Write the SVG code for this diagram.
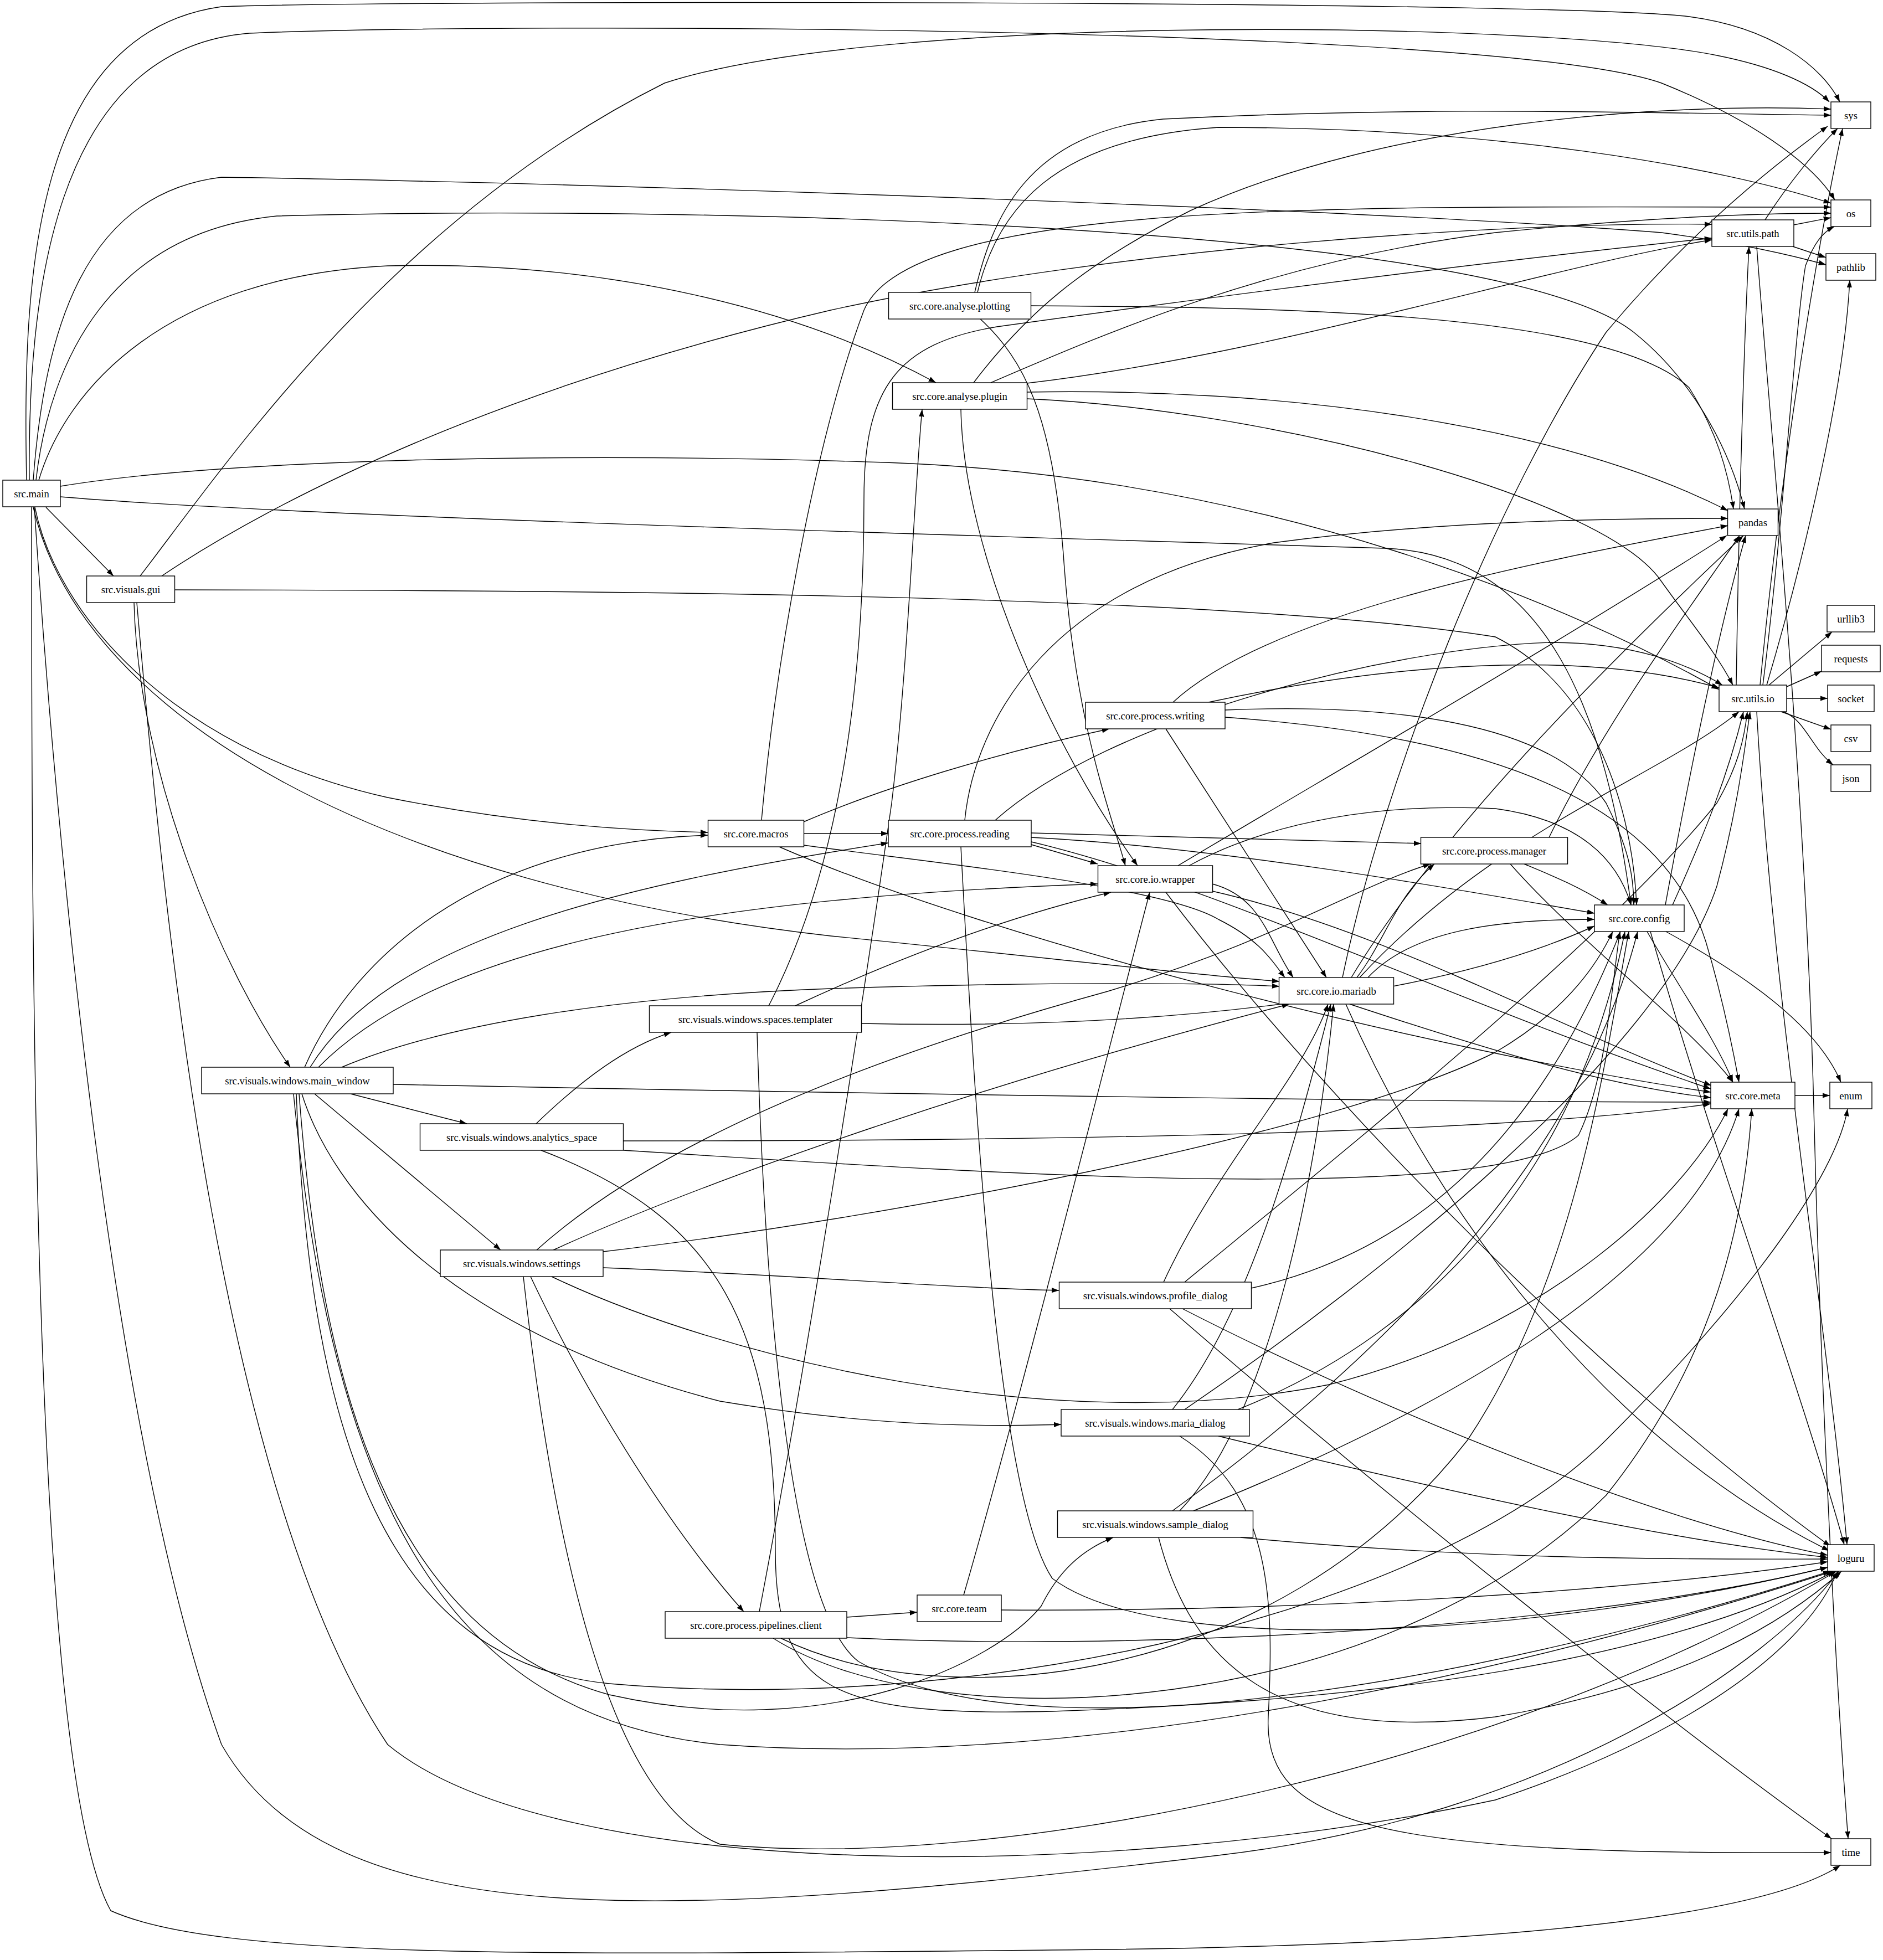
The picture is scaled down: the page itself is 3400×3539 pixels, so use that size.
<svg xmlns="http://www.w3.org/2000/svg" width="3400" height="3539" viewBox="0 0 3400 3539">
<style>
.e path{fill:none;stroke:#000;stroke-width:1.4;marker-end:url(#a)}
.n rect{fill:#fff;stroke:#000;stroke-width:1.4}
.n text{font-family:"Liberation Serif","Times New Roman",serif;font-size:18.67px;text-anchor:middle;fill:#000}
</style>
<defs>
<marker id="a" markerUnits="userSpaceOnUse" markerWidth="15" markerHeight="11" refX="13.3" refY="4.7" orient="auto"><path d="M0,0 L13.3,4.7 L0,9.4 Z" fill="#000"/></marker>
</defs>
<rect width="3400" height="3539" fill="#fff"/>
<g id="edges" class="e">
<path d="M48,867 C40,500 60,60 400,12 C700,0 2800,0 3050,30 C3200,50 3290,120 3322,184"/>
<path d="M53,867 C50,550 90,90 450,60 C900,40 2700,45 3000,150 C3150,210 3270,290 3313,361"/>
<path d="M60,867 C80,600 150,350 400,320 C1100,330 2500,380 3000,420 C3150,440 3250,465 3297,478"/>
<path d="M65,867 C90,650 200,420 500,390 C1200,370 2700,400 2950,600 C3050,680 3120,800 3150,919"/>
<path d="M70,867 C120,700 300,500 700,480 C1100,470 1450,560 1690,691"/>
<path d="M83,916 L205,1040"/>
<path d="M109,878 C400,830 1000,815 1600,835 C2300,860 2850,1100 3104,1245"/>
<path d="M109,897 C500,930 1500,960 2500,990 C2800,1000 2900,1300 2945,1634"/>
<path d="M63,916 C100,1100 300,1350 700,1440 C950,1490 1150,1500 1278,1503"/>
<path d="M60,916 C150,1300 700,1600 1500,1690 C1900,1730 2150,1760 2310,1772"/>
<path d="M62,916 C100,1500 200,2600 400,3150 C600,3500 1200,3470 2200,3350 C2800,3280 3200,3000 3320,2837"/>
<path d="M57,916 C57,1800 60,3200 200,3450 C400,3540 1000,3530 2000,3520 C2800,3510 3200,3450 3323,3368"/>
<path d="M253,1040 C400,850 700,400 1200,150 C1600,20 2800,40 3100,100 C3200,120 3270,150 3303,184"/>
<path d="M292,1040 C500,900 900,700 1500,560 C2000,450 2700,400 3091,405"/>
<path d="M316,1065 C1000,1066 2200,1070 2700,1150 C2900,1250 2950,1500 2955,1634"/>
<path d="M242,1088 C250,1400 400,1750 524,1927"/>
<path d="M247,1088 C300,1700 400,2700 700,3150 C1000,3400 2000,3400 2700,3250 C3000,3150 3250,3000 3318,2837"/>
<path d="M550,1927 C650,1700 900,1520 1278,1508"/>
<path d="M560,1927 C700,1700 1100,1600 1604,1522"/>
<path d="M575,1927 C800,1700 1300,1620 1982,1596"/>
<path d="M617,1927 C800,1850 1100,1800 1500,1785 C1900,1772 2200,1775 2310,1781"/>
<path d="M710,1958 C1300,1970 2500,1990 3089,1990"/>
<path d="M633,1975 L843,2029"/>
<path d="M568,1975 L904,2257"/>
<path d="M545,1975 C600,2150 800,2400 1300,2530 C1600,2580 1800,2575 1916,2572"/>
<path d="M540,1975 C580,2500 700,2950 1100,3060 C1500,3150 1800,3000 1880,2900 C1910,2840 1950,2800 2010,2776"/>
<path d="M535,1975 C560,2600 700,3000 1100,3040 C1800,3100 2600,2900 2900,2600 C3200,2300 3320,2100 3336,2002"/>
<path d="M530,1975 C600,2700 800,3100 1300,3150 C2000,3200 2800,3000 3310,2837"/>
<path d="M968,2029 C1050,1950 1130,1890 1212,1864"/>
<path d="M1126,2060 C1800,2060 2700,2050 3089,1993"/>
<path d="M1126,2077 C1800,2120 2700,2180 2850,2050 C2900,1950 2910,1780 2925,1682"/>
<path d="M977,2077 C1300,2200 1400,2400 1400,2800 C1400,3050 1500,3100 1900,3090 C2500,3070 3000,3000 3313,2837"/>
<path d="M969,2257 C1200,2050 1600,1900 2000,1790 C2300,1700 2450,1600 2583,1560"/>
<path d="M999,2257 C1300,2120 1800,1950 2328,1813"/>
<path d="M1089,2260 C1600,2200 2400,2050 2700,1900 C2820,1830 2880,1750 2912,1682"/>
<path d="M1089,2289 C1400,2300 1700,2325 1912,2330"/>
<path d="M996,2305 C1300,2450 1900,2600 2400,2500 C2800,2400 3050,2150 3120,2002"/>
<path d="M958,2305 C1050,2500 1200,2750 1343,2910"/>
<path d="M945,2305 C1000,2800 1100,3250 1300,3330 C1800,3380 2700,3200 3316,2837"/>
<path d="M1388,1816 C1500,1600 1560,1300 1560,900 C1560,700 1620,620 1800,590 C2300,520 2800,460 3091,430"/>
<path d="M1436,1816 C1600,1740 1800,1660 2006,1611"/>
<path d="M1556,1848 C2100,1860 2600,1800 2879,1672"/>
<path d="M1367,1864 C1380,2300 1420,2900 1550,3000 C1900,3200 2800,3000 3305,2837"/>
<path d="M1375,1481 C1400,1200 1470,800 1560,560 C1650,350 2500,375 3306,374"/>
<path d="M1451,1484 C1600,1420 1800,1360 2003,1316"/>
<path d="M1451,1505 L1604,1505"/>
<path d="M1451,1526 C1700,1560 2100,1600 2200,1660 C2280,1700 2300,1740 2320,1765"/>
<path d="M1407,1529 C1800,1700 2600,1900 3089,1972"/>
<path d="M1760,528 C1790,400 1850,240 2100,215 C2600,190 3000,205 3306,208"/>
<path d="M1765,528 C1800,380 1900,250 2200,230 C2700,230 3100,300 3306,367"/>
<path d="M1861,552 C2300,555 2900,560 3050,700 C3100,780 3120,850 3130,919"/>
<path d="M1770,576 C1850,650 1900,750 1920,1000 C1940,1300 2000,1450 2032,1563"/>
<path d="M1758,691 C1850,570 1950,480 2150,380 C2500,220 3000,185 3306,197"/>
<path d="M1789,691 C2000,600 2300,470 2700,420 C3000,390 3200,385 3306,385"/>
<path d="M1854,692 C2300,640 2800,480 3091,433"/>
<path d="M1854,708 C2300,700 2800,760 3120,922"/>
<path d="M1854,720 C2300,740 2900,900 3000,1050 C3050,1120 3100,1180 3129,1237"/>
<path d="M1735,739 C1740,1000 1900,1350 2054,1563"/>
<path d="M2118,1268 C2300,1100 2800,1010 3120,949"/>
<path d="M2182,1268 C2500,1200 2850,1170 3104,1242"/>
<path d="M2212,1282 C2500,1270 2800,1300 2900,1450 C2940,1530 2950,1580 2950,1634"/>
<path d="M2212,1295 C2700,1330 3000,1450 3080,1700 C3110,1800 3130,1900 3140,1954"/>
<path d="M2105,1316 L2395,1765"/>
<path d="M2127,1563 C2400,1400 2800,1170 3118,967"/>
<path d="M2147,1563 C2300,1480 2500,1450 2700,1460 C2850,1480 2920,1550 2945,1634"/>
<path d="M2189,1596 C2280,1620 2290,1700 2335,1765"/>
<path d="M2189,1609 C2500,1680 2800,1850 3090,1960"/>
<path d="M2105,1611 C2400,2000 2900,2500 3305,2792"/>
<path d="M1742,1481 C1760,1300 1900,1050 2300,980 C2600,940 2900,936 3120,936"/>
<path d="M1797,1481 C2000,1300 2500,1170 2800,1160 C2950,1160 3050,1200 3110,1237"/>
<path d="M1862,1525 L1982,1560"/>
<path d="M1862,1504 C2100,1510 2400,1520 2566,1523"/>
<path d="M1862,1512 C2200,1530 2600,1600 2879,1649"/>
<path d="M1862,1520 C2200,1600 2600,1800 3089,1966"/>
<path d="M1735,1529 C1760,2000 1800,2700 1900,2850 C2100,3000 2800,2950 3300,2830"/>
<path d="M2797,1512 C2900,1300 3050,1100 3141,967"/>
<path d="M2752,1560 C2800,1580 2850,1600 2903,1634"/>
<path d="M2727,1560 C2850,1700 3050,1850 3129,1954"/>
<path d="M2424,1765 C2500,1400 2700,900 2900,600 C3050,420 3200,300 3300,228"/>
<path d="M2440,1765 C2600,1500 2900,1200 3148,967"/>
<path d="M2450,1765 C2500,1700 2520,1620 2590,1560"/>
<path d="M2470,1765 C2550,1680 2700,1660 2879,1660"/>
<path d="M2455,1765 C2700,1500 3000,1400 3140,1285"/>
<path d="M2437,1813 C2700,1900 2900,1960 3089,1982"/>
<path d="M2430,1813 C2600,2200 2900,2600 3303,2800"/>
<path d="M3007,1634 C3050,1400 3100,1150 3152,967"/>
<path d="M3020,1634 C3080,1500 3120,1400 3148,1285"/>
<path d="M2974,1682 C3030,1780 3100,1880 3129,1954"/>
<path d="M3008,1682 C3150,1760 3280,1850 3324,1954"/>
<path d="M2980,1682 C3100,2100 3250,2500 3330,2789"/>
<path d="M3241,1978 L3304,1978"/>
<path d="M3187,397 C3230,330 3280,270 3318,232"/>
<path d="M3239,406 L3306,393"/>
<path d="M3237,445 L3297,465"/>
<path d="M3172,445 C3190,700 3260,1400 3275,2000 C3290,2600 3320,3100 3337,3320"/>
<path d="M3178,1237 C3210,900 3270,500 3327,232"/>
<path d="M3183,1237 C3220,950 3240,600 3260,480 C3275,440 3290,420 3312,409"/>
<path d="M3190,1237 C3260,1000 3330,700 3340,506"/>
<path d="M3135,1237 C3140,900 3150,600 3158,445"/>
<path d="M3194,1237 L3308,1141"/>
<path d="M3226,1240 L3289,1212"/>
<path d="M3226,1261 L3300,1261"/>
<path d="M3216,1285 L3306,1317"/>
<path d="M3220,1285 C3260,1300 3270,1350 3310,1381"/>
<path d="M3172,1285 C3200,1800 3300,2400 3335,2789"/>
<path d="M1740,2880 C1850,2500 2000,1900 2076,1611"/>
<path d="M1808,2907 C2300,2910 2900,2880 3300,2820"/>
<path d="M1371,2910 C1450,2500 1560,1800 1610,1450 C1640,1200 1650,900 1665,739"/>
<path d="M1529,2920 L1656,2911"/>
<path d="M1529,2957 C2000,2980 2800,2950 3300,2830"/>
<path d="M1396,2958 C1700,3150 2500,3100 2900,2700 C3100,2450 3150,2200 3163,2002"/>
<path d="M1410,2958 C1700,3100 2300,3050 2650,2600 C2850,2300 2900,1900 2941,1682"/>
<path d="M2101,2315 C2200,2100 2350,1950 2398,1813"/>
<path d="M2139,2315 C2400,2100 2900,1700 3100,1450 C3140,1380 3150,1330 3155,1285"/>
<path d="M2259,2326 C2600,2250 2800,2000 2926,1682"/>
<path d="M2135,2363 C2500,2550 3000,2750 3300,2808"/>
<path d="M2112,2363 C2500,2700 3000,3100 3307,3320"/>
<path d="M2117,2545 C2250,2380 2330,2100 2403,1813"/>
<path d="M2139,2545 C2500,2300 3000,1900 3100,1600 C3140,1450 3150,1350 3160,1285"/>
<path d="M2235,2545 C2600,2400 2850,2100 2934,1682"/>
<path d="M2200,2593 C2600,2690 3000,2780 3300,2812"/>
<path d="M2130,2593 C2300,2700 2300,2900 2290,3100 C2280,3300 2500,3350 3306,3345"/>
<path d="M2130,2728 C2300,2550 2380,2100 2408,1813"/>
<path d="M2117,2728 C2500,2450 2850,2100 2957,1682"/>
<path d="M2155,2728 C2600,2550 3050,2300 3140,2002"/>
<path d="M2240,2776 C2700,2820 3100,2815 3300,2815"/>
<path d="M2092,2776 C2150,3000 2300,3150 2700,3100 C3000,3050 3200,2950 3325,2837"/>
</g>
<g id="n-main" class="n"><rect x="5" y="867" width="104" height="48"/><text x="57" y="897.5">src.main</text></g>
<g id="n-gui" class="n"><rect x="156.5" y="1040" width="159" height="48"/><text x="236" y="1070.5">src.visuals.gui</text></g>
<g id="n-main_window" class="n"><rect x="364" y="1927" width="346" height="48"/><text x="537" y="1957.5">src.visuals.windows.main_window</text></g>
<g id="n-analytics_space" class="n"><rect x="758.5" y="2029" width="367" height="48"/><text x="942" y="2059.5">src.visuals.windows.analytics_space</text></g>
<g id="n-settings" class="n"><rect x="795" y="2257" width="294" height="48"/><text x="942" y="2287.5">src.visuals.windows.settings</text></g>
<g id="n-macros" class="n"><rect x="1278.5" y="1481" width="173" height="48"/><text x="1365" y="1511.5">src.core.macros</text></g>
<g id="n-templater" class="n"><rect x="1172.5" y="1816" width="383" height="48"/><text x="1364" y="1846.5">src.visuals.windows.spaces.templater</text></g>
<g id="n-client" class="n"><rect x="1201" y="2910" width="328" height="48"/><text x="1365" y="2940.5">src.core.process.pipelines.client</text></g>
<g id="n-plotting" class="n"><rect x="1604.5" y="528" width="257" height="48"/><text x="1733" y="558.5">src.core.analyse.plotting</text></g>
<g id="n-plugin" class="n"><rect x="1611.5" y="691" width="243" height="48"/><text x="1733" y="721.5">src.core.analyse.plugin</text></g>
<g id="n-reading" class="n"><rect x="1604" y="1481" width="258" height="48"/><text x="1733" y="1511.5">src.core.process.reading</text></g>
<g id="n-team" class="n"><rect x="1656" y="2880" width="152" height="48"/><text x="1732" y="2910.5">src.core.team</text></g>
<g id="n-writing" class="n"><rect x="1960" y="1268" width="252" height="48"/><text x="2086" y="1298.5">src.core.process.writing</text></g>
<g id="n-wrapper" class="n"><rect x="1982.5" y="1563" width="207" height="48"/><text x="2086" y="1593.5">src.core.io.wrapper</text></g>
<g id="n-profile_dialog" class="n"><rect x="1912.5" y="2315" width="347" height="48"/><text x="2086" y="2345.5">src.visuals.windows.profile_dialog</text></g>
<g id="n-maria_dialog" class="n"><rect x="1916" y="2545" width="340" height="48"/><text x="2086" y="2575.5">src.visuals.windows.maria_dialog</text></g>
<g id="n-sample_dialog" class="n"><rect x="1909.5" y="2728" width="353" height="48"/><text x="2086" y="2758.5">src.visuals.windows.sample_dialog</text></g>
<g id="n-mariadb" class="n"><rect x="2309.5" y="1765" width="207" height="48"/><text x="2413" y="1795.5">src.core.io.mariadb</text></g>
<g id="n-manager" class="n"><rect x="2565.5" y="1512" width="265" height="48"/><text x="2698" y="1542.5">src.core.process.manager</text></g>
<g id="n-config" class="n"><rect x="2879" y="1634" width="162" height="48"/><text x="2960" y="1664.5">src.core.config</text></g>
<g id="n-path" class="n"><rect x="3091" y="397" width="148" height="48"/><text x="3165" y="427.5">src.utils.path</text></g>
<g id="n-pandas" class="n"><rect x="3119.5" y="919" width="91" height="48"/><text x="3165" y="949.5">pandas</text></g>
<g id="n-io" class="n"><rect x="3104" y="1237" width="122" height="48"/><text x="3165" y="1267.5">src.utils.io</text></g>
<g id="n-meta" class="n"><rect x="3089" y="1954" width="152" height="48"/><text x="3165" y="1984.5">src.core.meta</text></g>
<g id="n-sys" class="n"><rect x="3306" y="184" width="72" height="48"/><text x="3342" y="214.5">sys</text></g>
<g id="n-os" class="n"><rect x="3306" y="361" width="72" height="48"/><text x="3342" y="391.5">os</text></g>
<g id="n-pathlib" class="n"><rect x="3297" y="458" width="90" height="48"/><text x="3342" y="488.5">pathlib</text></g>
<g id="n-urllib3" class="n"><rect x="3299" y="1093" width="86" height="48"/><text x="3342" y="1123.5">urllib3</text></g>
<g id="n-requests" class="n"><rect x="3289" y="1165" width="106" height="48"/><text x="3342" y="1195.5">requests</text></g>
<g id="n-socket" class="n"><rect x="3300" y="1237" width="84" height="48"/><text x="3342" y="1267.5">socket</text></g>
<g id="n-csv" class="n"><rect x="3306" y="1309" width="72" height="48"/><text x="3342" y="1339.5">csv</text></g>
<g id="n-json" class="n"><rect x="3306" y="1381" width="72" height="48"/><text x="3342" y="1411.5">json</text></g>
<g id="n-enum" class="n"><rect x="3304" y="1954" width="76" height="48"/><text x="3342" y="1984.5">enum</text></g>
<g id="n-loguru" class="n"><rect x="3300" y="2789" width="84" height="48"/><text x="3342" y="2819.5">loguru</text></g>
<g id="n-time" class="n"><rect x="3306" y="3320" width="72" height="48"/><text x="3342" y="3350.5">time</text></g>
</svg>
